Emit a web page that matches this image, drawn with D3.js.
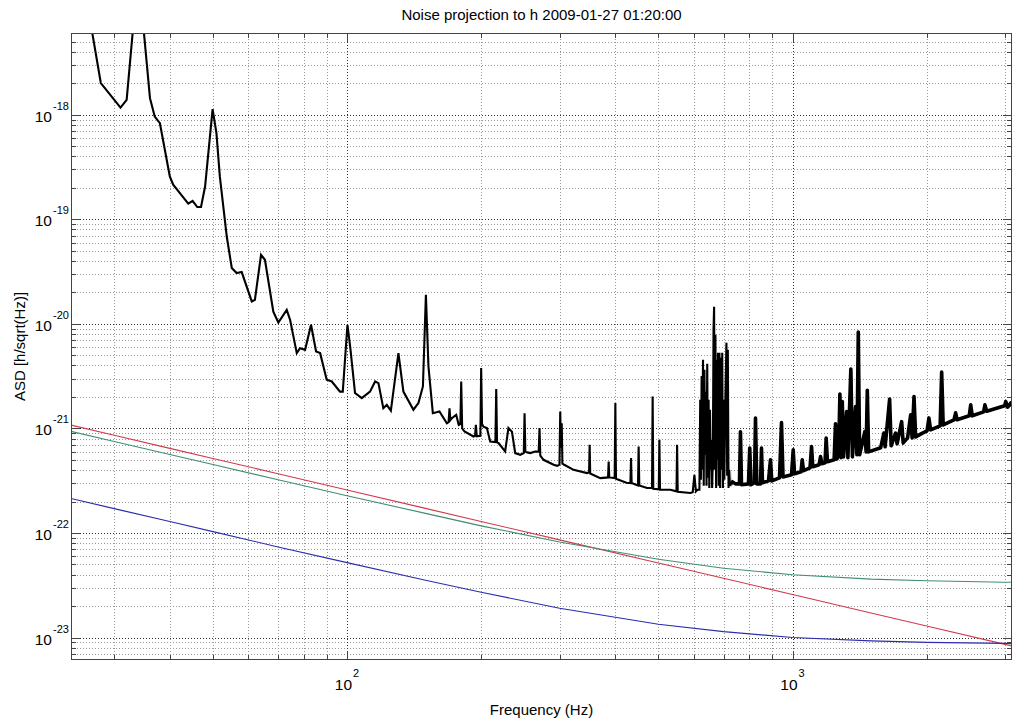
<!DOCTYPE html>
<html>
<head>
<meta charset="utf-8">
<script src="https://cdn.jsdelivr.net/npm/d3@7"></script>
<style>
  body { margin: 0; background: #fff; }
  text { font-family: "Liberation Sans", Arial, Helvetica, sans-serif; fill: #000; }
</style>
</head>
<body>
<div id="chart"></div>
<script>
const WIDTH = 1013;
const HEIGHT = 725;
const PLOT = { left: 71, right: 1012, top: 33, bottom: 660 };

const freqDomain = [24, 3110];
const asdDomain = [6.1e-24, 6.05e-18];

// tick positions / labels
const xTickFreqs = [30, 40, 50, 60, 70, 80, 90, 100, 200, 300, 400, 500, 600, 700, 800, 900, 1000, 2000, 3000];
const xLabelExps = [2, 3];
const yLabelExps = [-23, -22, -21, -20, -19, -18];

// measured total noise (black)
const totalFreq = [
  24.0, 26.8, 28.0, 31.0, 32.0, 33.0, 34.0, 35.0, 36.1, 37.0, 38.0, 40.0, 40.7, 44.0, 45.0, 46.1, 47.0, 48.0,
  49.9, 50.9, 51.8, 53.7, 55.1, 56.5, 58.0, 61.1, 62.1, 64.1, 65.4, 68.3, 70.1, 73.2, 74.5, 77.1, 78.4, 80.5,
  83.0, 85.2, 87.0, 90.0, 92.4, 96.4, 97.8, 100.2, 101.6, 104.2, 107.9, 112.6, 115.6, 117.6, 120.6, 122.8,
  125.4, 130.4, 133.8, 140.9, 144.6, 148.0, 150.3, 152.3, 155.8, 161.2, 167.5, 169.0, 169.8, 170.6, 172.2,
  175.8, 178.1, 179.6, 180.4, 181.3, 183.5, 192.2, 193.8, 194.6, 195.5, 199.2, 200.0, 200.9, 202.4, 206.0,
  209.6, 215.3, 216.2, 217.1, 218.8, 226.4, 230.3, 234.5, 238.5, 244.8, 249.3, 250.3, 251.3, 253.8, 257.8,
  264.5, 269.3, 270.4, 271.5, 276.1, 290.8, 296.4, 299.8, 301.0, 302.0, 303.3, 304.4, 307.3, 322.4, 345.7,
  349.4, 350.4, 351.4, 370.3, 385.4, 386.6, 387.8, 398.8, 400.2, 401.5, 423.6, 432.6, 434.0, 435.4, 449.9,
  451.4, 452.9, 471.4, 483.7, 485.3, 486.9, 500.9, 502.5, 504.1, 531.9, 549.0, 550.7, 552.4, 589.8, 597.0,
  602.2, 607.0, 611.6,
  618.0, 620.6, 622.8, 625.1, 627.3, 629.6, 631.9, 634.2, 636.5, 638.8, 641.1, 643.5, 645.8, 648.1, 650.5,
  652.8, 655.2, 657.6, 660.0, 662.4, 664.8, 666.8, 668.9, 671.3, 673.8, 676.2, 678.3, 680.4, 682.9, 685.4,
  687.9, 690.4, 692.9, 695.4, 697.9, 700.4, 703.0, 705.5, 708.1, 710.7, 713.3, 715.8, 718.4, 721.0, 723.7, 732.0,
  744.6, 760.2, 764.1, 768.1, 796.4, 801.7, 806.7, 821.5, 825.8, 831.4, 847.5, 851.8, 856.2, 883.2, 892.4,
  898.4, 934.9, 944.7, 952.1, 994.9, 1003.7, 1010.5, 1045, 1051.5, 1058.6, 1094.7, 1103.3, 1110.7, 1147,
  1156, 1164, 1183, 1190, 1198, 1240, 1249, 1259, 1269, 1277.6, 1285.5, 1293.5, 1302, 1322.5, 1331.5, 1352,
  1363, 1385.5, 1395, 1405, 1414.5, 1454, 1463, 1472, 1482, 1577, 1604, 1614, 1652, 1665, 1704, 1717, 1758,
  1772, 1813, 1842, 1856, 1874, 1890, 1957, 2005, 2024, 2042, 2145, 2162, 2179, 2304, 2324, 2342, 2493, 2512,
  2532, 2686, 2704, 2729, 2995, 3011, 3042, 3090, 3140
];
const totalAsd = [
  3.0e-17, 6.0e-18, 2.01e-18, 1.17e-18, 1.39e-18, 6.0e-18, 1.3e-17, 6.0e-18, 1.44e-18, 9.6e-19, 8.3e-19, 2.57e-19, 2.14e-19, 1.41e-19, 1.50e-19, 1.31e-19, 1.31e-19, 2.06e-19,
  1.13e-18, 6.68e-19, 2.57e-19, 6.81e-20, 3.42e-20, 3.06e-20, 3.13e-20, 1.64e-20, 1.70e-20, 4.58e-20, 4.10e-20, 1.31e-20, 1.03e-20, 1.36e-20, 1.09e-20, 5.25e-21, 5.86e-21, 5.65e-21,
  9.80e-21, 5.44e-21, 5.25e-21, 2.92e-21, 2.81e-21, 2.25e-21, 2.25e-21, 9.80e-21, 6.08e-21, 2.18e-21, 1.95e-21, 2.25e-21, 2.81e-21, 2.71e-21, 1.56e-21, 1.68e-21,
  1.48e-21, 5.25e-21, 2.25e-21, 1.51e-21, 1.75e-21, 2.52e-21, 1.90e-20, 3.91e-21, 1.40e-21, 1.45e-21, 1.12e-21, 1.15e-21, 1.56e-21, 1.20e-21, 1.26e-21,
  1.35e-21, 1.08e-21, 1.10e-21, 2.81e-21, 1.00e-21, 9.34e-22, 8.37e-22, 8.50e-22, 1.08e-21, 8.40e-22, 8.50e-22, 3.78e-21, 1.10e-21, 1.04e-21, 1.01e-21,
  7.50e-22, 7.40e-22, 2.38e-21, 7.40e-22, 7.24e-22, 6.02e-22, 1.01e-21, 9.29e-22, 5.81e-22, 5.60e-22, 5.80e-22, 1.40e-21, 6.00e-22, 5.90e-22, 5.81e-22,
  6.02e-22, 6.00e-22, 1.01e-21, 5.50e-22, 5.01e-22, 4.49e-22, 4.39e-22, 4.50e-22, 1.45e-21, 6.50e-22, 1.12e-21, 4.60e-22, 4.49e-22, 4.02e-22, 3.74e-22,
  3.80e-22, 6.97e-22, 3.70e-22, 3.35e-22, 3.40e-22, 4.83e-22, 3.40e-22, 3.35e-22, 1.75e-21, 3.30e-22, 3.02e-22, 3.00e-22, 5.20e-22, 3.00e-22, 2.85e-22,
  6.71e-22, 2.85e-22, 2.69e-22, 2.70e-22, 2.02e-21, 2.65e-22, 2.62e-22, 7.78e-22, 2.60e-22, 2.59e-22, 2.50e-22, 6.97e-22, 2.48e-22, 2.41e-22, 2.45e-22,
  3.60e-22, 2.50e-22, 2.59e-22,
  2.59e-22, 1.88e-21, 3.23e-22, 3.18e-21, 4.02e-22, 4.53e-21, 2.83e-22, 3.64e-21, 5.60e-22, 2.24e-21, 2.83e-22, 4.15e-21, 3.37e-22, 1.88e-21, 2.70e-22,
  1.51e-21, 4.02e-22, 7.78e-22, 2.70e-22, 5.01e-22, 8.78e-21, 1.46e-20, 4.02e-22, 7.87e-21, 2.70e-22, 4.53e-21, 5.01e-22, 5.29e-21, 2.83e-22, 5.29e-21,
  2.70e-22, 4.74e-21, 4.02e-22, 5.29e-21, 2.70e-22, 1.88e-21, 3.23e-22, 1.21e-21, 2.92e-21, 6.59e-21, 3.52e-22, 5.65e-21, 2.70e-22, 4.02e-22, 2.83e-22, 3.10e-22,
  2.95e-22, 2.95e-22, 9.29e-22, 2.89e-22, 2.95e-22, 6.48e-22, 2.89e-22, 3.02e-22, 1.26e-21, 2.95e-22, 2.95e-22, 6.48e-22, 3.02e-22, 3.15e-22, 5.01e-22,
  3.15e-22, 3.37e-22, 1.14e-21, 3.44e-22, 3.60e-22, 6.24e-22, 3.68e-22, 3.85e-22, 5.01e-22, 3.94e-22, 4.20e-22, 6.71e-22, 4.30e-22, 4.49e-22,
  5.38e-22, 4.59e-22, 4.69e-22, 8.07e-22, 4.80e-22, 5.01e-22, 1.11e-21, 5.12e-22, 5.60e-22, 2.13e-21, 5.24e-22, 1.81e-21, 5.35e-22, 1.45e-21, 5.24e-22, 3.69e-21,
  5.35e-22, 1.62e-21, 5.60e-22, 8.34e-21, 5.60e-22, 9.35e-22, 5.97e-22, 2.31e-21, 5.97e-22, 6.53e-22, 9.02e-22, 6.67e-22, 1.91e-21, 6.82e-22, 9.02e-22, 7.13e-22, 1.16e-21,
  7.28e-22, 8.13e-22, 1.35e-21, 8.13e-22, 2.02e-21, 8.30e-22, 9.02e-22, 9.48e-22, 1.26e-21, 9.70e-22, 1.06e-21, 3.46e-21, 1.08e-21, 1.21e-21, 1.41e-21, 1.21e-21, 1.32e-21, 1.68e-21,
  1.32e-21, 1.44e-21, 1.68e-21, 1.46e-21, 1.65e-21, 1.81e-21, 1.60e-21, 1.75e-21, 1.55e-21
];

// projected noise terms (red, green, blue)
const termFreq = [24, 30, 40, 50, 70, 100, 150, 200, 300, 500, 700, 1000, 1500, 2000, 3000, 3110];
const redAsd = [1.075e-21, 8.6e-22, 6.45e-22, 5.16e-22, 3.69e-22, 2.58e-22, 1.72e-22, 1.29e-22, 8.6e-23, 5.16e-23, 3.69e-23, 2.58e-23, 1.72e-23, 1.29e-23, 8.6e-24, 8.3e-24];
const greenAsd = [9.38e-22, 7.51e-22, 5.63e-22, 4.51e-22, 3.23e-22, 2.27e-22, 1.54e-22, 1.17e-22, 8.2e-23, 5.6e-23, 4.6e-23, 3.99e-23, 3.62e-23, 3.49e-23, 3.38e-23, 3.38e-23];
const blueAsd = [2.14e-22, 1.71e-22, 1.29e-22, 1.03e-22, 7.35e-23, 5.21e-23, 3.53e-23, 2.71e-23, 1.91e-23, 1.34e-23, 1.14e-23, 1.0e-23, 9.3e-24, 9.0e-24, 8.8e-24, 8.75e-24];

const series = [
  { name: 'red', freq: termFreq, asd: redAsd, color: '#d23a4c', width: 1.1 },
  { name: 'green', freq: termFreq, asd: greenAsd, color: '#3f8f72', width: 1.1 },
  { name: 'blue', freq: termFreq, asd: blueAsd, color: '#2c2cb0', width: 1.1 },
  { name: 'total', freq: totalFreq, asd: totalAsd, color: '#000', width: 2.1 }
];

const xScale = d3.scaleLog().domain(freqDomain).range([PLOT.left, PLOT.right]);
const yScale = d3.scaleLog().domain(asdDomain).range([PLOT.bottom, PLOT.top]);

// y grid values: every k*10^n inside the domain
const yMinorVals = [];
const yMajorVals = yLabelExps.map(e => Math.pow(10, e));
for (let e = -24; e <= -18; e++) {
  for (let k = 2; k <= 9; k++) {
    const v = k * Math.pow(10, e);
    if (v > asdDomain[0] && v < asdDomain[1]) yMinorVals.push(v);
  }
}
const xMajorVals = xLabelExps.map(e => Math.pow(10, e));
const xMinorVals = xTickFreqs.filter(f => !xMajorVals.includes(f));

const svg = d3.select('#chart')
  .append('svg')
  .attr('width', WIDTH)
  .attr('height', HEIGHT);

const defs = svg.append('defs');
defs.append('clipPath')
  .attr('id', 'plot-clip')
  .append('rect')
  .attr('x', PLOT.left)
  .attr('y', PLOT.top)
  .attr('width', PLOT.right - PLOT.left)
  .attr('height', PLOT.bottom - PLOT.top);
// the dense high-frequency part of the spectrum reads as a thicker band
defs.append('clipPath')
  .attr('id', 'hf-clip')
  .append('rect')
  .attr('x', xScale(730))
  .attr('y', PLOT.top)
  .attr('width', PLOT.right - xScale(730))
  .attr('height', PLOT.bottom - PLOT.top);

// grid
const grid = svg.append('g').attr('fill', 'none');
const drawV = (vals, color) => grid.selectAll(null)
  .data(vals)
  .enter()
  .append('line')
  .attr('x1', d => Math.round(xScale(d)) + 0.5)
  .attr('x2', d => Math.round(xScale(d)) + 0.5)
  .attr('y1', PLOT.top)
  .attr('y2', PLOT.bottom)
  .attr('stroke', color)
  .attr('stroke-dasharray', '1,2');
const drawH = (vals, color) => grid.selectAll(null)
  .data(vals)
  .enter()
  .append('line')
  .attr('y1', d => Math.round(yScale(d)) + 0.5)
  .attr('y2', d => Math.round(yScale(d)) + 0.5)
  .attr('x1', PLOT.left)
  .attr('x2', PLOT.right)
  .attr('stroke', color)
  .attr('stroke-dasharray', '1,2');
drawV(xMinorVals, '#999');
drawH(yMinorVals, '#999');
drawV(xMajorVals, '#333');
drawH(yMajorVals, '#333');

// curves
const line = d3.line()
  .x(d => xScale(d[0]))
  .y(d => yScale(d[1]));

const curves = svg.append('g').attr('clip-path', 'url(#plot-clip)');
curves.selectAll('path')
  .data(series)
  .enter()
  .append('path')
  .attr('d', s => line(s.freq.map((f, i) => [f, s.asd[i]])))
  .attr('fill', 'none')
  .attr('stroke', s => s.color)
  .attr('stroke-width', s => s.width)
  .attr('stroke-linejoin', 'miter')
  .attr('stroke-miterlimit', 3);

const total = series.find(s => s.name === 'total');
curves.append('path')
  .attr('clip-path', 'url(#hf-clip)')
  .attr('d', line(total.freq.map((f, i) => [f, total.asd[i]])))
  .attr('fill', 'none')
  .attr('stroke', '#000')
  .attr('stroke-width', 3.6)
  .attr('stroke-linejoin', 'round');

// axes box and inward ticks
const axes = svg.append('g').attr('stroke', '#444').attr('fill', 'none');
axes.append('rect')
  .attr('x', PLOT.left + 0.5)
  .attr('y', PLOT.top + 0.5)
  .attr('width', PLOT.right - PLOT.left - 1)
  .attr('height', PLOT.bottom - PLOT.top - 1);

const xTicks = xMinorVals.map(v => ({ v, len: 5 })).concat(xMajorVals.map(v => ({ v, len: 9 })));
const yTicks = yMinorVals.map(v => ({ v, len: 5 })).concat(yMajorVals.map(v => ({ v, len: 9 })));

[PLOT.bottom, PLOT.top].forEach(y0 => {
  const dir = y0 === PLOT.bottom ? -1 : 1;
  axes.selectAll(null)
    .data(xTicks)
    .enter()
    .append('line')
    .attr('x1', d => Math.round(xScale(d.v)) + 0.5)
    .attr('x2', d => Math.round(xScale(d.v)) + 0.5)
    .attr('y1', y0)
    .attr('y2', d => y0 + dir * d.len);
});
[PLOT.left, PLOT.right].forEach(x0 => {
  const dir = x0 === PLOT.left ? 1 : -1;
  axes.selectAll(null)
    .data(yTicks)
    .enter()
    .append('line')
    .attr('y1', d => Math.round(yScale(d.v)) + 0.5)
    .attr('y2', d => Math.round(yScale(d.v)) + 0.5)
    .attr('x1', x0)
    .attr('x2', d => x0 + dir * d.len);
});

// tick labels (10 with superscript exponent)
const yLabels = svg.append('g')
  .selectAll('g')
  .data(yLabelExps)
  .enter()
  .append('g')
  .attr('transform', e => `translate(52, ${yScale(Math.pow(10, e))})`);
yLabels.append('text')
  .attr('text-anchor', 'end')
  .attr('y', 7)
  .attr('font-size', 15.5)
  .text('10');
yLabels.append('text')
  .attr('text-anchor', 'start')
  .attr('x', 1)
  .attr('y', -5)
  .attr('font-size', 11)
  .text(e => e);

const xLabels = svg.append('g')
  .selectAll('g')
  .data(xLabelExps)
  .enter()
  .append('g')
  .attr('transform', e => `translate(${xScale(Math.pow(10, e))}, 690)`);
xLabels.append('text')
  .attr('text-anchor', 'end')
  .attr('x', 5)
  .attr('font-size', 15.5)
  .text('10');
xLabels.append('text')
  .attr('text-anchor', 'start')
  .attr('x', 6)
  .attr('y', -13)
  .attr('font-size', 11)
  .text(e => e);

// titles
svg.append('text')
  .attr('x', (PLOT.left + PLOT.right) / 2)
  .attr('y', 20)
  .attr('text-anchor', 'middle')
  .attr('font-size', 15)
  .text('Noise projection to h 2009-01-27 01:20:00');

svg.append('text')
  .attr('x', (PLOT.left + PLOT.right) / 2)
  .attr('y', 715)
  .attr('text-anchor', 'middle')
  .attr('font-size', 15)
  .text('Frequency (Hz)');

svg.append('text')
  .attr('transform', `translate(25, ${(PLOT.top + PLOT.bottom) / 2}) rotate(-90)`)
  .attr('text-anchor', 'middle')
  .attr('font-size', 15)
  .text('ASD [h/sqrt(Hz)]');
</script>
</body>
</html>
